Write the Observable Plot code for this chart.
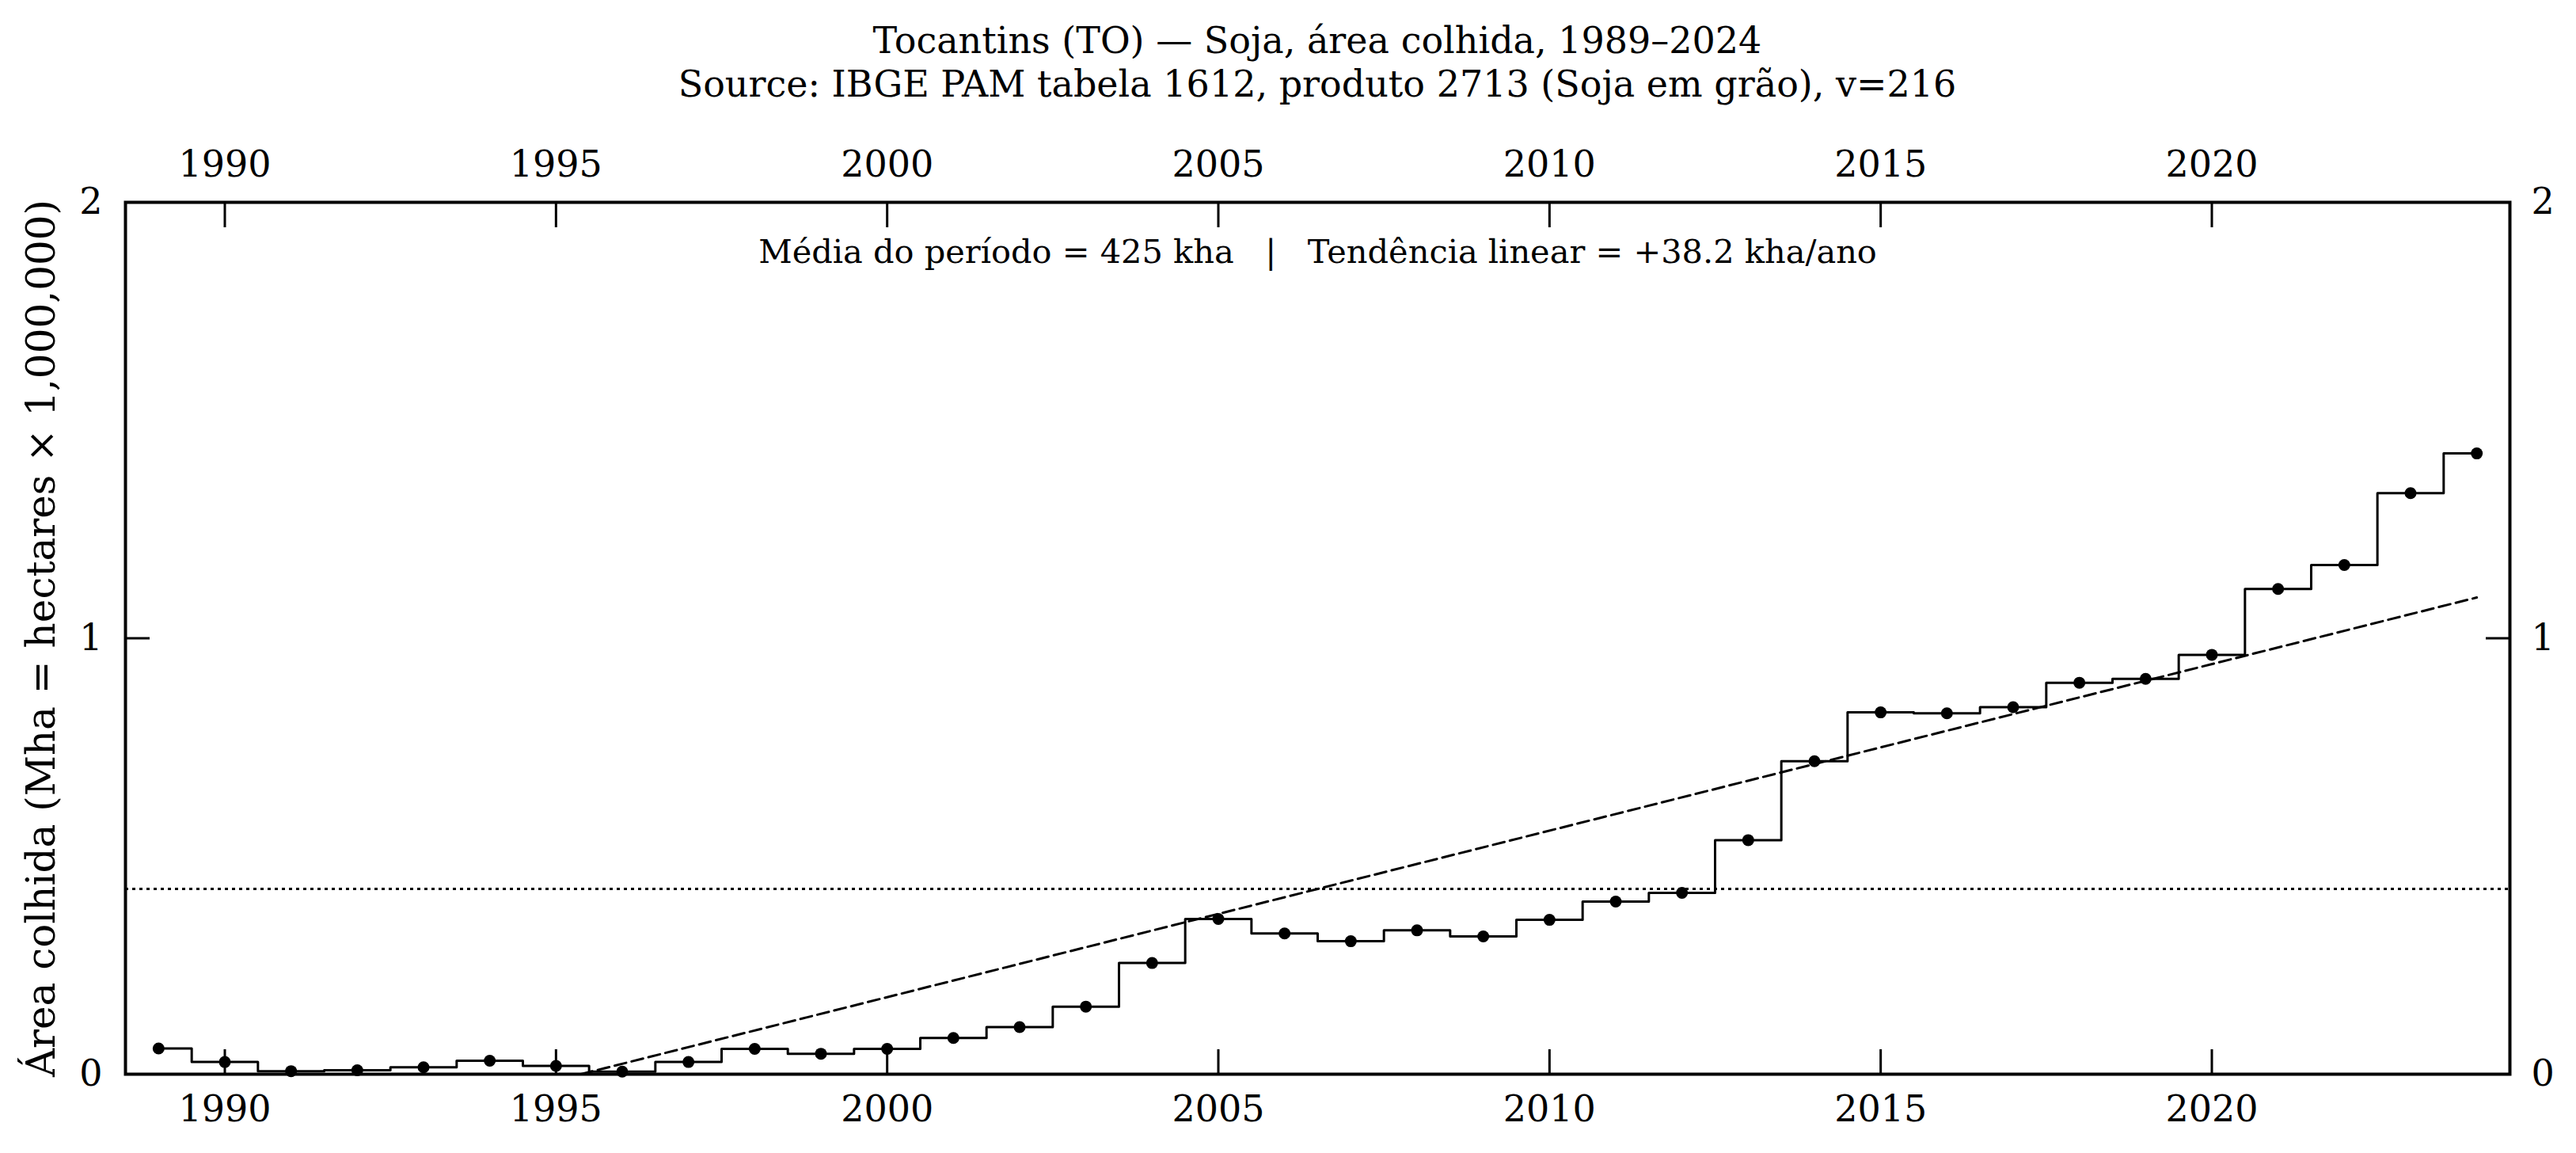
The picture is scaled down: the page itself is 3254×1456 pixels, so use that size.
<!DOCTYPE html>
<html>
<head>
<meta charset="utf-8">
<script src="https://cdn.jsdelivr.net/npm/d3@7"></script>
<script src="https://cdn.jsdelivr.net/npm/@observablehq/plot@0.6"></script>
<style>
  html, body { margin: 0; padding: 0; background: #fff; overflow: hidden; }
  #head {
    box-sizing: border-box;
    height: 140px;
    padding: 24px 84px 0 158px;
    font-family: "DejaVu Serif", serif;
    font-size: 46px;
    line-height: 55px;
    text-align: center;
    color: #000;
  }
  #chart svg { display: block; max-width: none; }
</style>
</head>
<body>
<div id="head">
  <div id="title"></div>
  <div id="subtitle"></div>
</div>
<div id="chart"></div>
<script>
// Soybean harvested area, Tocantins, in millions of hectares (Mha)
const years = [
  1989, 1990, 1991, 1992, 1993, 1994, 1995, 1996, 1997, 1998, 1999, 2000,
  2001, 2002, 2003, 2004, 2005, 2006, 2007, 2008, 2009, 2010, 2011, 2012,
  2013, 2014, 2015, 2016, 2017, 2018, 2019, 2020, 2021, 2022, 2023, 2024
];
const areaMha = [
  0.059, 0.028, 0.007, 0.009, 0.016, 0.031, 0.019, 0.006, 0.028, 0.058, 0.047, 0.058,
  0.083, 0.108, 0.155, 0.255, 0.356, 0.323, 0.305, 0.330, 0.316, 0.354, 0.396, 0.416,
  0.537, 0.718, 0.830, 0.828, 0.842, 0.898, 0.907, 0.962, 1.113, 1.168, 1.333, 1.424
];

// Summary statistics shown in the annotation (kha and kha/year)
const meanKha = 425;
const slopeKha = 38.2;

// Axis ticks
const xTicks = [1990, 1995, 2000, 2005, 2010, 2015, 2020];
const yTicks = [0, 1, 2];

const titleText = "Tocantins (TO) — Soja, área colhida, 1989–2024";
const subtitleText = "Source: IBGE PAM tabela 1612, produto 2713 (Soja em grão), v=216";
const yLabel = "Área colhida (Mha = hectares × 1,000,000)";
const sep = "\u00a0\u00a0\u00a0|\u00a0\u00a0\u00a0";
const statsText = `Média do período = ${meanKha} kha${sep}Tendência linear = +${slopeKha} kha/ano`;

document.getElementById("title").textContent = titleText;
document.getElementById("subtitle").textContent = subtitleText;

const series = years.map((year, i) => ({year, value: areaMha[i]}));

// Least-squares trend through the period mean at the mid year
const midYear = d3.mean(years);
const trend = [years[0], years[years.length - 1]].map(year => ({
  year,
  value: (meanKha + slopeKha * (year - midYear)) / 1000
}));

const tick = {tickSize: -31, strokeWidth: 3, fontSize: 46, label: null};

const chart = Plot.plot({
  width: 3254,
  height: 1316,
  marginTop: 115,
  marginBottom: 100,
  marginLeft: 158,
  marginRight: 84,
  style: {fontFamily: "DejaVu Serif", fontSize: "46px", background: "#fff", color: "#000"},
  x: {domain: [1988.5, 2024.5]},
  y: {domain: [0, 2]},
  marks: [
    // period mean
    Plot.ruleY([meanKha / 1000], {stroke: "#000", strokeWidth: 3, strokeDasharray: "4,5"}),
    // linear trend
    Plot.line(trend, {x: "year", y: "value", stroke: "#000", strokeWidth: 3, strokeDasharray: "15,7", clip: true}),
    // yearly values as a mid-step line with markers
    Plot.line(series, {x: "year", y: "value", curve: "step", stroke: "#000", strokeWidth: 3}),
    Plot.dot(series, {x: "year", y: "value", r: 7.5, fill: "#000", stroke: null}),
    Plot.text([statsText], {frameAnchor: "top", dy: 63, lineAnchor: "middle", fontSize: 41.5, fill: "#000"}),
    Plot.text([yLabel], {frameAnchor: "left", dx: -106, rotate: -90, lineAnchor: "middle", textAnchor: "middle", fontSize: 50, fill: "#000"}),
    Plot.axisX({anchor: "bottom", ticks: xTicks, tickFormat: "d", tickPadding: 58, ...tick}),
    Plot.axisX({anchor: "top", ticks: xTicks, tickFormat: "d", tickPadding: 64, ...tick}),
    Plot.axisY({anchor: "left", ticks: yTicks, tickFormat: "d", tickPadding: 60, ...tick}),
    Plot.axisY({anchor: "right", ticks: yTicks, tickFormat: "d", tickPadding: 58, ...tick}),
    Plot.frame({stroke: "#000", strokeWidth: 4})
  ]
});

document.getElementById("chart").appendChild(chart);
</script>
</body>
</html>
